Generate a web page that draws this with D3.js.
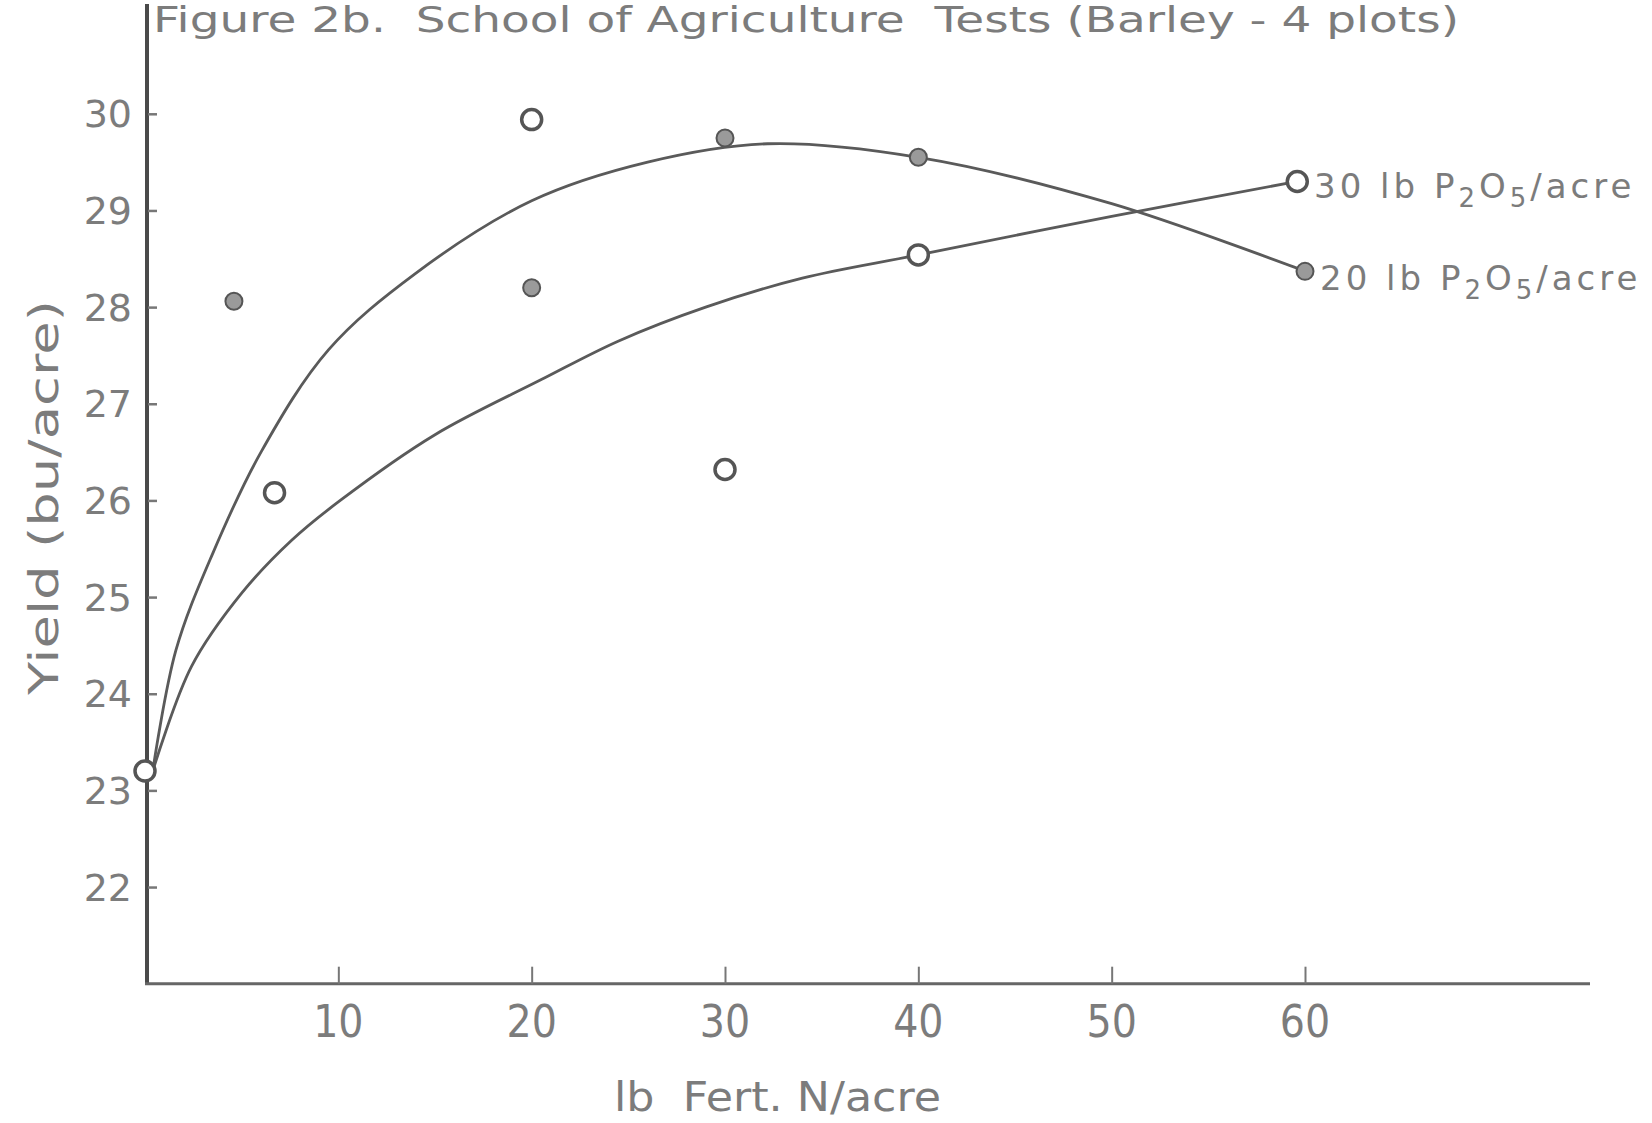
<!DOCTYPE html>
<html>
<head>
<meta charset="utf-8">
<script src="https://cdn.jsdelivr.net/npm/d3@7"></script>
<style>
  html, body { margin: 0; padding: 0; background: #fff; }
  svg { display: block; }
  text { font-family: "DejaVu Sans", sans-serif; fill: #7c7c7c; white-space: pre; }
</style>
</head>
<body>
<script>
// ---------- data ----------
const titleText = "Figure 2b.  School of Agriculture  Tests (Barley - 4 plots)";
const xLabel = "lb  Fert. N/acre";
const yLabel = "Yield (bu/acre)";
const xTicks = [10, 20, 30, 40, 50, 60];
const yTicks = [22, 23, 24, 25, 26, 27, 28, 29, 30];

// 30 lb P2O5/acre (open circles) - points on the fitted curve
const p30X = [0, 40, 59.6];
const p30Y = [23.2, 28.54, 29.3];
// 20 lb P2O5/acre (filled dots) - points on the fitted curve
const p20X = [0, 30, 40, 60];
const p20Y = [23.2, 29.75, 29.55, 28.37];

// other observed plots (off the curves)
const openX = [20, 6.7, 30];
const openY = [29.94, 26.08, 26.32];
const filledX = [4.6, 20];
const filledY = [28.06, 28.2];

// hand-drawn fitted curves
const curve30X = [0.4, 2.4, 5.0, 7.6, 10.1, 15, 20.5, 24.5, 29, 34, 40, 50, 59.6];
const curve30Y = [23.2, 24.28, 25.04, 25.59, 26.0, 26.68, 27.25, 27.65, 28.0, 28.3, 28.54, 28.94, 29.3];
const curve20X = [0.4, 1.6, 3.5, 6.0, 9.5, 14, 20, 26, 32.2, 40, 50, 60];
const curve20Y = [23.2, 24.45, 25.45, 26.5, 27.56, 28.35, 29.1, 29.5, 29.69, 29.55, 29.07, 28.37];

const label30 = ["30 lb P", "2", "O", "5", "/acre"];
const label20 = ["20 lb P", "2", "O", "5", "/acre"];

// ---------- drawing ----------
const W = 1652, H = 1123;
const svg = d3.select("body").append("svg").attr("width", W).attr("height", H);

const x = d3.scaleLinear().domain([0, 60]).range([145, 1305]);
const y = d3.scaleLinear().domain([21, 30]).range([983.7, 113.8]);

const ink = "#5a5a5a";

// axes
svg.append("line").attr("x1", x(0)+2).attr("x2", x(0)+2).attr("y1", 4).attr("y2", y(21))
  .attr("stroke", "#4a4a4a").attr("stroke-width", 4);
svg.append("line").attr("x1", x(0)).attr("x2", 1590).attr("y1", y(21)).attr("y2", y(21))
  .attr("stroke", "#666").attr("stroke-width", 3);

// y ticks
const yAxis = d3.axisRight(y).tickValues(yTicks).tickSize(9).tickFormat("");
svg.append("g").attr("transform", `translate(${x(0)+3},0)`).call(yAxis)
  .call(g => g.select(".domain").remove())
  .call(g => g.selectAll(".tick line").attr("stroke", "#777").attr("stroke-width", 2.5));
svg.append("g").selectAll("text").data(yTicks).join("text")
  .attr("x", 132).attr("y", d => y(d)).attr("dy", "0.36em")
  .attr("text-anchor", "end").style("font-size", "38px").text(d => d);

// x ticks
const xAxis = d3.axisTop(x).tickValues(xTicks).tickSize(17).tickFormat("");
svg.append("g").attr("transform", `translate(0,${y(21)})`).call(xAxis)
  .call(g => g.select(".domain").remove())
  .call(g => g.selectAll(".tick line").attr("stroke", "#777").attr("stroke-width", 2));
svg.append("g").selectAll("text").data(xTicks).join("text")
  .attr("x", d => x(d)).attr("y", 1037)
  .attr("text-anchor", "middle").style("font-size", "44px").style("font-stretch", "condensed")
  .text(d => d);

// title
svg.append("text").attr("x", 153).attr("y", 32).style("font-size", "36px")
  .attr("textLength", 1306).attr("lengthAdjust", "spacingAndGlyphs").text(titleText);

// axis labels
svg.append("text").attr("x", 614).attr("y", 1111).style("font-size", "40px")
  .attr("textLength", 327).attr("lengthAdjust", "spacingAndGlyphs").text(xLabel);
svg.append("text").attr("transform", "translate(58,695) rotate(-90)")
  .style("font-size", "40px").attr("textLength", 395).attr("lengthAdjust", "spacingAndGlyphs")
  .text(yLabel);

// curves
const line = d3.line().x(d => x(d[0])).y(d => y(d[1])).curve(d3.curveCatmullRom.alpha(0.5));
svg.append("path").datum(d3.zip(curve30X, curve30Y)).attr("d", line)
  .attr("fill", "none").attr("stroke", ink).attr("stroke-width", 2.8);
svg.append("path").datum(d3.zip(curve20X, curve20Y)).attr("d", line)
  .attr("fill", "none").attr("stroke", ink).attr("stroke-width", 2.8);

// markers
const openPts = d3.zip(p30X, p30Y).concat(d3.zip(openX, openY));
svg.append("g").selectAll("circle").data(openPts).join("circle")
  .attr("cx", d => x(d[0])).attr("cy", d => y(d[1])).attr("r", 10)
  .attr("fill", "#fff").attr("stroke", "#555").attr("stroke-width", 3.5);
const filledPts = d3.zip(p20X.slice(1), p20Y.slice(1)).concat(d3.zip(filledX, filledY));
svg.append("g").selectAll("circle").data(filledPts).join("circle")
  .attr("cx", d => x(d[0])).attr("cy", d => y(d[1])).attr("r", 8.5)
  .attr("fill", "#9a9a9a").attr("stroke", "#555").attr("stroke-width", 2);

// series labels
function seriesLabel(parts, x0, base) {
  const t = svg.append("text").attr("x", x0).attr("y", base)
    .style("font-size", "34px").style("letter-spacing", "4px");
  parts.forEach((p, i) => {
    const sub = i === 1 || i === 3;
    const ts = t.append("tspan").text(p);
    if (sub) ts.style("font-size", "26px").attr("dy", 9);
    else if (i > 0) ts.attr("dy", -9);
  });
}
seriesLabel(label30, 1314, 198);
seriesLabel(label20, 1320, 290);
</script>
</body>
</html>
